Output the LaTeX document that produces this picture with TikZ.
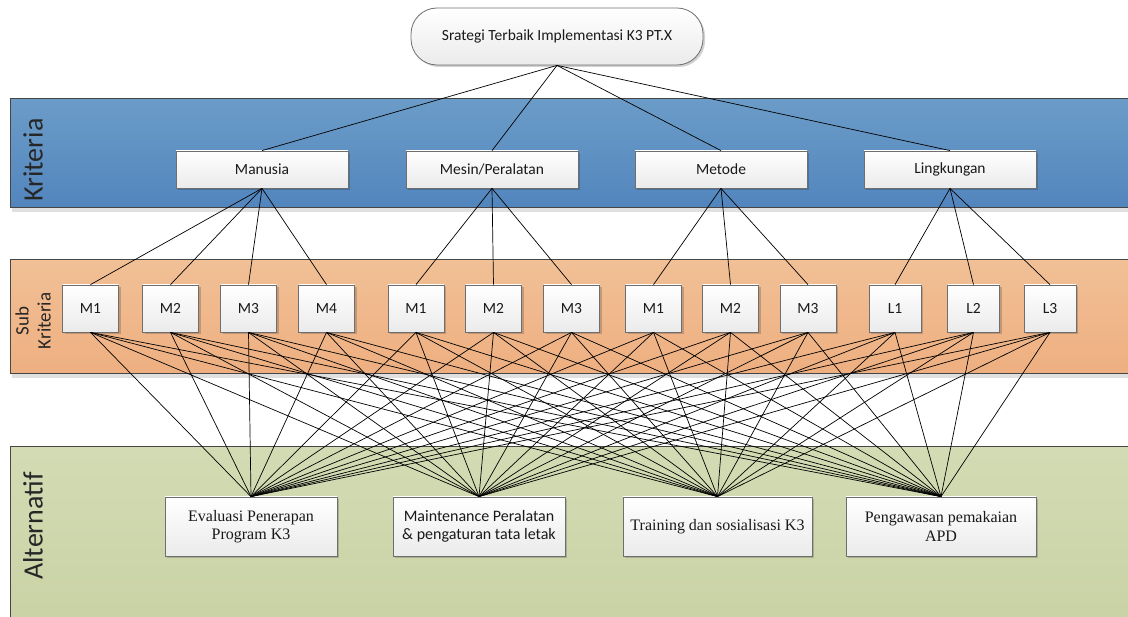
\documentclass[tikz,border=0pt]{standalone}
\usepackage{fontspec}
\setmainfont{Carlito}
\newfontfamily\timesfont{Liberation Serif}
\usetikzlibrary{shadows}
\definecolor{bluetop}{RGB}{107,156,200}
\definecolor{bluebot}{RGB}{82,133,189}
\definecolor{orangetop}{RGB}{241,192,150}
\definecolor{orangebot}{RGB}{238,175,128}
\definecolor{greentop}{RGB}{211,219,180}
\definecolor{greenbot}{RGB}{201,210,164}
\definecolor{boxline}{RGB}{110,110,110}
\definecolor{bandline}{RGB}{70,70,70}
\begin{document}
\begin{tikzpicture}[x=1pt,y=-1pt,
  band/.style={draw=bandline, line width=1pt},
  boxbase/.style={draw=boxline, line width=0.8pt, top color=white, bottom color=black!8,
    inner sep=0pt, align=center, text=black!90,
    drop shadow={shadow xshift=2pt, shadow yshift=-2pt, fill=black, opacity=0.18}},
  krit/.style={boxbase, minimum width=172pt, minimum height=37pt, font=\fontsize{15.5}{18}\selectfont},
  sub/.style={boxbase, minimum width=56pt, minimum height=47pt, font=\fontsize{15.5}{18}\selectfont},
  subl/.style={sub, minimum width=52pt},
  alt/.style={boxbase, minimum height=59pt, font=\fontsize{16}{18.5}\selectfont},
  altt/.style={alt, font=\timesfont\fontsize{16}{18.5}\selectfont},
  bandlabel/.style={rotate=90, text=black!85, align=center},
  link/.style={draw=black, line width=0.7pt}
]
\useasboundingbox (0,0) rectangle (1128,617);
\begin{scope}
\clip (0,0) rectangle (1128,617);
\fill[black!12] (12,208) rectangle (1140,212);
\fill[black!12] (12,374) rectangle (1140,378);
\shade[band, top color=bluetop, bottom color=bluebot] (10,99) rectangle (1140,208);
\shade[band, top color=orangetop, bottom color=orangebot] (10,260) rectangle (1140,374);
\shade[band, top color=greentop, bottom color=greenbot] (10,447) rectangle (1140,630);
\end{scope}

\node[bandlabel, font=\fontsize{28}{30}\selectfont] (lk) at (33,160) {Kriteria};
\node[bandlabel, font=\fontsize{19}{22}\selectfont] (ls) at (33,321) {Sub\\Kriteria};
\node[bandlabel, font=\fontsize{28}{30}\selectfont] (la) at (33,526) {Alternatif};

\node[boxbase, minimum width=292pt, minimum height=57pt, rounded corners=26pt,
  font=\fontsize{15.5}{18}\selectfont] (goal) at (557,36.5) {Srategi Terbaik Implementasi K3 PT.X};

\node[krit] (k1) at (262,169.5) {Manusia};
\node[krit] (k2) at (492,169.5) {Mesin/Peralatan};
\node[krit] (k3) at (721,169.5) {Metode};
\node[krit] (k4) at (950,169.5) {Lingkungan};

\node[sub] (s1) at (90.5,308.5) {M1};
\node[sub] (s2) at (170.5,308.5) {M2};
\node[sub] (s3) at (248.5,308.5) {M3};
\node[sub] (s4) at (326.5,308.5) {M4};
\node[sub] (s5) at (416,308.5) {M1};
\node[sub] (s6) at (493.5,308.5) {M2};
\node[sub] (s7) at (571.5,308.5) {M3};
\node[sub] (s8) at (653.5,308.5) {M1};
\node[sub] (s9) at (730.5,308.5) {M2};
\node[sub] (s10) at (808,308.5) {M3};
\node[subl] (s11) at (895,308.5) {L1};
\node[subl] (s12) at (973.5,308.5) {L2};
\node[subl] (s13) at (1050,308.5) {L3};

\node[altt, minimum width=172pt] (a1) at (251,526.5) {Evaluasi Penerapan\\Program K3};
\node[alt, minimum width=172pt] (a2) at (479,526.5) {Maintenance Peralatan\\\& pengaturan tata letak};
\node[altt, minimum width=189pt] (a3) at (717.5,526.5) {Training dan sosialisasi K3};
\node[altt, minimum width=190pt] (a4) at (941,526.5) {Pengawasan pemakaian\\APD};

\foreach \k in {k1,k2,k3,k4} \draw[link] (goal.south) -- (\k.north);
\foreach \s in {s1,s2,s3,s4} \draw[link] (k1.south) -- (\s.north);
\foreach \s in {s5,s6,s7} \draw[link] (k2.south) -- (\s.north);
\foreach \s in {s8,s9,s10} \draw[link] (k3.south) -- (\s.north);
\foreach \s in {s11,s12,s13} \draw[link] (k4.south) -- (\s.north);
\foreach \s in {s1,s2,s3,s4,s5,s6,s7,s8,s9,s10,s11,s12,s13}
  \foreach \a in {a1,a2,a3,a4}
    \draw[link] (\s.south) -- (\a.north);
\end{tikzpicture}
\end{document}
